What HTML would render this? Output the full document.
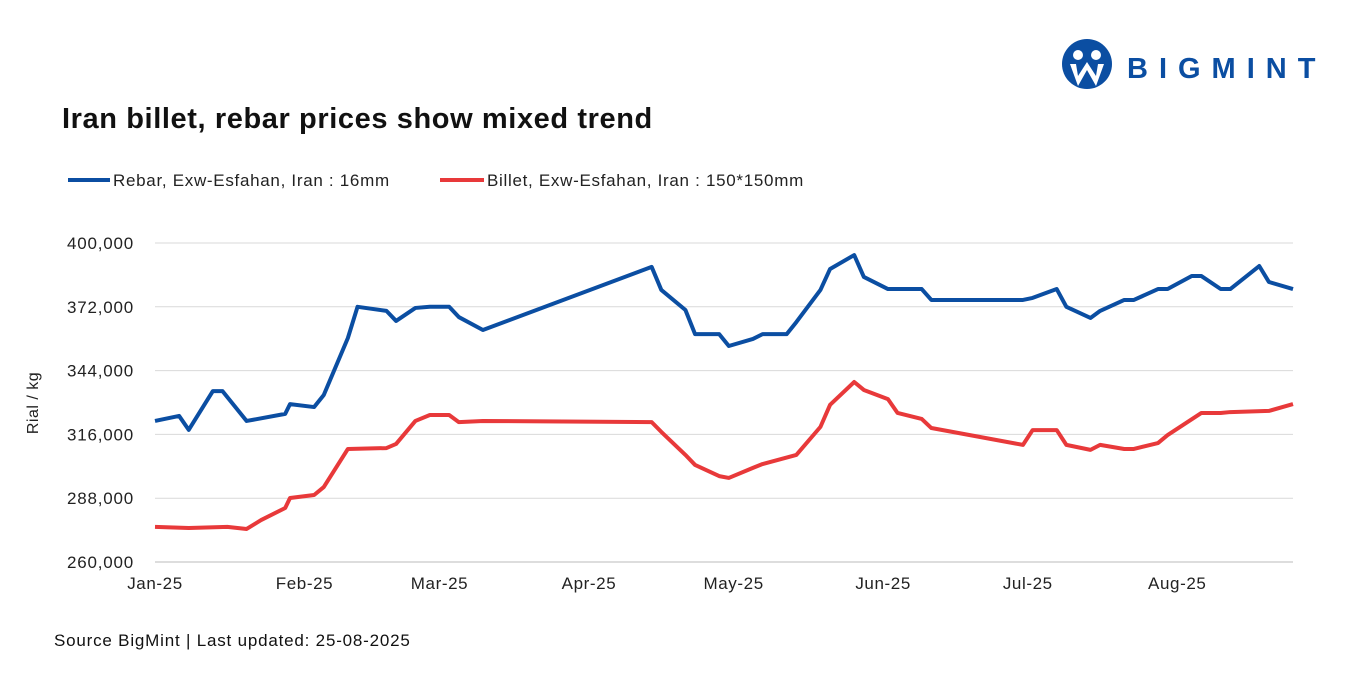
<!DOCTYPE html>
<html><head><meta charset="utf-8"><style>
body{margin:0;width:1350px;height:675px;background:#fff;overflow:hidden;font-family:"Liberation Sans",sans-serif}
svg text{font-family:"Liberation Sans",sans-serif}
</style></head><body>
<svg width="1350" height="675">
<g>
<circle cx="1087" cy="64" r="25" fill="#0b4ea2"/>
<circle cx="1078" cy="55" r="5" fill="#fff"/><circle cx="1096" cy="55" r="5" fill="#fff"/>
<path d="M1070 64 L1078 86 L1087 70 L1096 86 L1104 64 L1098 64 L1096 76 L1087 62 L1078 76 L1076 64Z" fill="#fff"/>
<text x="1127" y="78" font-size="29" font-weight="bold" fill="#0b4ea2" letter-spacing="11">BIGMINT</text>
</g>
<text x="62" y="128" font-size="29" font-weight="bold" fill="#111" letter-spacing="0.6">Iran billet, rebar prices show mixed trend</text>
<g>
<g><line x1="68" y1="180" x2="110" y2="180" stroke="#0b4ea2" stroke-width="4"/><text x="113" y="186" font-size="17" fill="#222" letter-spacing="0.7">Rebar, Exw-Esfahan, Iran : 16mm</text></g>
<g><line x1="440" y1="180" x2="484" y2="180" stroke="#e8393a" stroke-width="4"/><text x="487" y="186" font-size="17" fill="#222" letter-spacing="0.7">Billet, Exw-Esfahan, Iran : 150*150mm</text></g>
</g>
<text transform="translate(38,403) rotate(-90)" text-anchor="middle" font-size="16" fill="#222" letter-spacing="0.5">Rial / kg</text>
<g id="grid"></g><g id="xt"></g><g id="series"></g>
<text x="54" y="646" font-size="17" fill="#111" letter-spacing="0.8">Source BigMint | Last updated: 25-08-2025</text>
</svg>
<script>
const yTicks=[260000,288000,316000,344000,372000,400000];
const monthLabels=["Jan-25","Feb-25","Mar-25","Apr-25","May-25","Jun-25","Jul-25","Aug-25"];
const monthDays=[0,31,59,90,120,151,181,212];
const rebarDays=[0,5,7,12,14,19,27,28,33,35,40,42,48,50,54,57,61,63,68,103,105,110,112,117,119,124,126,131,133,138,140,145,147,152,159,161,180,182,187,189,194,196,201,203,208,210,215,217,221,223,229,231,236];
const rebarVals=[321900,324100,318000,335000,335000,321900,325000,329300,328000,333300,358300,372000,370200,365800,371500,372000,372000,367500,361800,389500,379400,370600,360000,360000,354800,357900,360000,360000,365300,379400,388600,394700,385100,379800,379800,375000,375000,375900,379800,372000,367100,370200,375000,375000,379800,379800,385500,385500,379800,379800,389900,382900,379800];
const billetDays=[0,7,15,19,22,27,28,33,35,40,48,50,54,57,61,63,68,103,105,110,112,117,119,124,126,133,138,140,145,147,152,154,159,161,180,182,187,189,194,196,201,203,208,210,217,221,223,231,236];
const billetVals=[275400,274900,275400,274500,278400,283700,288100,289400,292900,309600,310000,311800,321900,324500,324500,321400,321900,321400,317100,307000,302600,297700,296900,301300,303000,307000,319300,329000,339000,335500,331500,325400,322800,318800,311400,317900,317900,311400,309200,311400,309600,309600,312200,315700,325400,325400,325800,326300,329300];
const NS="http://www.w3.org/2000/svg";
const X=d=>155+d*(1293-155)/236;
const Y=v=>562-(v-260000)/140000*319;
function mk(t,a,p){const e=document.createElementNS(NS,t);for(const k in a)e.setAttribute(k,a[k]);p.appendChild(e);return e;}
const g=document.getElementById('grid');
yTicks.forEach(v=>{
 const l=mk('line',{x1:155,x2:1293,y1:Y(v),y2:Y(v),stroke:v===260000?'#bbb':'#d9d9d9','stroke-width':1},g);
 
 
 const t=mk('text',{x:134,y:Y(v)+6,'text-anchor':'end','font-size':17,fill:'#222','letter-spacing':0.8},g);
 
 
 t.textContent=v.toLocaleString('en-US');
});
const xt=document.getElementById('xt');
monthLabels.forEach((m,i)=>{
 const t=mk('text',{x:X(monthDays[i]),y:589,'text-anchor':'middle','font-size':17,fill:'#222','letter-spacing':0.6},xt);
 
 
 t.textContent=m;
});
const s=document.getElementById('series');
function line(days,vals,col,name){
 const p=mk('polyline',{points:days.map((d,i)=>X(d)+','+Y(vals[i])).join(' '),fill:'none',stroke:col,'stroke-width':4,'stroke-linejoin':'round'},s);
 
 
}
line(billetDays,billetVals,'#e8393a','billet-line');
line(rebarDays,rebarVals,'#0b4ea2','rebar-line');
</script>
</body></html>
